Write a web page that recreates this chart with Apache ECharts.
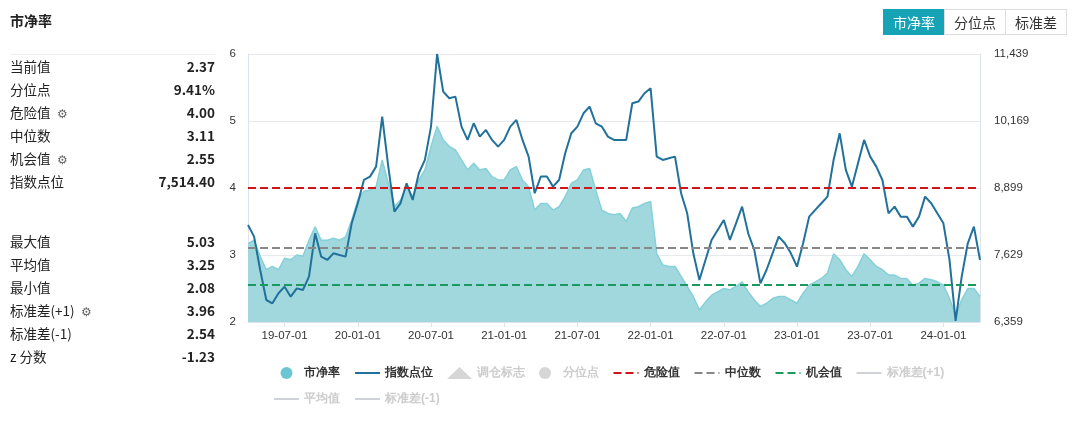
<!DOCTYPE html>
<html><head><meta charset="utf-8">
<script src="https://cdn.jsdelivr.net/npm/echarts@6/dist/echarts.min.js"></script>
<style>
body{margin:0;width:1080px;height:425px;background:#fff;font-family:"Noto Sans CJK SC","Noto Sans",sans-serif;overflow:hidden;position:relative}
#main{position:absolute;left:0;top:0;width:1080px;height:425px}
.title{position:absolute;left:10px;top:10px;font-size:14px;font-weight:bold;color:#222}
.stats{position:absolute;left:10px;top:54px;width:205px;border-top:1px solid #eee;font-size:13.5px;color:#222}
.row{display:flex;justify-content:space-between;height:23px;line-height:23px}
.row b{font-weight:bold}
.gap{height:37px}
.gear{color:#666;font-size:12px;margin-left:6px}
.btns{position:absolute;left:884px;top:9px;display:flex;font-size:14px}
.btns div{border:1px solid #ddd;padding:0 7px;height:24px;line-height:24px;color:#333;margin-left:-1px;width:46px;text-align:center}
.btns .on{background:#17a3b6;color:#fff;border-color:#17a3b6}
</style></head>
<body>
<div id="main"></div>
<div class="title">市净率</div>
<div class="stats" id="stats"></div>
<div class="btns"><div class="on">市净率</div><div>分位点</div><div>标准差</div></div>
<script>
// 左侧统计
var statTop = [["当前值","2.37"],["分位点","9.41%"],["危险值","4.00",1],["中位数","3.11"],["机会值","2.55",1],["指数点位","7,514.40"]];
var statBottom = [["最大值","5.03"],["平均值","3.25"],["最小值","2.08"],["标准差(+1)","3.96",1],["标准差(-1)","2.54"],["z 分数","-1.23"]];
function statHtml(list){
    return list.map(function(r){
        return '<div class="row"><span>'+r[0]+(r[2]?'<span class="gear">⚙</span>':'')+'</span><b>'+r[1]+'</b></div>';
    }).join('');
}
document.getElementById('stats').innerHTML = statHtml(statTop)+'<div class="gap"></div>'+statHtml(statBottom);

// 半月日期
var dates = [];
(function(){
    for(var y=2019;y<=2024;y++){
        for(var m=1;m<=12;m++){
            ['01','16'].forEach(function(d){
                var s = y+'-'+(m<10?'0'+m:m)+'-'+d;
                if(s>='2019-04-01' && s<='2024-04-01') dates.push(s);
            });
        }
    }
})();

var pbData = [3.17,3.22,2.98,2.78,2.83,2.78,2.95,2.93,3.00,2.98,3.22,3.42,3.22,3.22,3.25,3.22,3.27,3.52,3.82,3.95,
3.97,4.02,4.42,4.07,3.72,3.82,4.02,3.87,4.12,4.27,4.62,4.92,4.72,4.62,4.57,4.42,4.27,4.37,4.27,4.29,
4.17,4.12,4.12,4.27,4.32,4.12,4.02,3.67,3.77,3.77,3.67,3.72,3.87,4.07,4.12,4.27,4.29,3.97,3.67,3.62,
3.60,3.62,3.50,3.70,3.72,3.77,3.80,3.02,2.85,2.83,2.83,2.68,2.53,2.38,2.18,2.30,2.40,2.45,2.50,2.48,
2.53,2.60,2.45,2.33,2.23,2.28,2.35,2.38,2.38,2.33,2.28,2.43,2.55,2.60,2.65,2.73,3.02,2.93,2.78,2.68,
2.83,3.02,2.93,2.83,2.78,2.70,2.70,2.65,2.65,2.55,2.58,2.65,2.63,2.60,2.55,2.35,2.10,2.33,2.50,2.50,2.38];
var indexData = [8198,7977,7345,6776,6713,6903,7029,6839,6997,6966,7219,8040,7598,7535,7661,7629,7598,8230,8609,9051,
9115,9304,10252,9304,8451,8609,8988,8672,9178,9431,10063,11439,10726,10600,10631,10063,9810,10126,9873,10000,
9810,9683,9810,10063,10189,9810,9494,8799,9115,9115,8925,9051,9557,9936,10063,10315,10442,10126,10063,9873,
9810,9810,9810,10505,10537,10695,10789,9494,9431,9462,9494,8799,8419,7661,7155,7535,7914,8103,8293,7914,
8230,8546,8040,7724,7092,7345,7661,7977,7851,7661,7408,7851,8356,8483,8609,8735,9431,9936,9241,8925,
9367,9810,9494,9304,9051,8419,8546,8356,8356,8167,8356,8735,8609,8419,8230,7535,6380,7219,7851,8167,7535];
var dangerVal = 4.00, medianVal = 3.11, chanceVal = 2.55;
var yLeftTicks = [2,6,1];
var yRightTicks = [6359,11439,1270];

function isHalfYear(idx, val){ var t = val.slice(5); return t==='01-01'||t==='07-01'; }
function refLine(name,color,val,type){
    return {name:name,type:'line',data:[],symbol:'none',
        lineStyle:{color:color,type:type||'dashed',width:2},itemStyle:{color:color},
        markLine:val==null?undefined:{silent:true,symbol:'none',label:{show:false},
            lineStyle:{color:color,type:type||'dashed',width:2},data:[{yAxis:val}]}};
}
function lineItem(name){ return {name:name,itemStyle:{opacity:0}}; }

var chart = echarts.init(document.getElementById('main'));
chart.setOption({
    animation:false,
    legend:{left:268,top:362,width:730,itemGap:14,itemWidth:25,itemHeight:12,
        inactiveColor:'#ccc',
        textStyle:{fontSize:12,color:'#333',width:62,fontWeight:'bold'},
        selected:{'调仓标志':false,'分位点':false,'标准差(+1)':false,'平均值':false,'标准差(-1)':false},
        data:[{name:'市净率',icon:'circle'},lineItem('指数点位'),{name:'调仓标志',icon:'triangle',itemWidth:14},{name:'分位点',icon:'circle'},
            lineItem('危险值'),lineItem('中位数'),lineItem('机会值'),lineItem('标准差(+1)'),lineItem('平均值'),lineItem('标准差(-1)')]},
    grid:{left:248,right:100,top:54,bottom:103},
    xAxis:{type:'category',data:dates,boundaryGap:false,
        axisLine:{lineStyle:{color:'#dde3ea'}},
        axisTick:{interval:isHalfYear,lineStyle:{color:'#dde3ea'}},
        axisLabel:{interval:isHalfYear,color:'#333',fontSize:11.5,formatter:function(v){return v.slice(2);}}},
    yAxis:[{type:'value',min:yLeftTicks[0],max:yLeftTicks[1],interval:yLeftTicks[2],
            axisLine:{show:true,lineStyle:{color:'#dde3ea'}},
            axisLabel:{color:'#333',fontSize:11.5,margin:12},splitLine:{lineStyle:{color:'#e6e9ee'}}},
        {type:'value',min:yRightTicks[0],max:yRightTicks[1],interval:yRightTicks[2],
            axisLine:{show:true,lineStyle:{color:'#dde3ea'}},
            axisLabel:{color:'#333',fontSize:11.5,margin:14,formatter:function(v){return v.toLocaleString('en-US');}},
            splitLine:{show:false}}],
    series:[
        {name:'市净率',type:'line',data:pbData,symbol:'none',
            lineStyle:{color:'#86d0d9',width:1.5},itemStyle:{color:'#6cc6d1'},
            areaStyle:{color:'#a0d8de',opacity:1}},
        {name:'指数点位',type:'line',yAxisIndex:1,data:indexData,symbol:'none',
            lineStyle:{color:'#21719b',width:2},itemStyle:{color:'#21719b'}},
        {name:'调仓标志',type:'scatter',data:[],itemStyle:{color:'#999'}},
        {name:'分位点',type:'scatter',data:[],itemStyle:{color:'#999'}},
        refLine('危险值','#d0141a',dangerVal),
        refLine('中位数','#888',medianVal),
        refLine('机会值','#1a9a5f',chanceVal),
        refLine('标准差(+1)','#aaa',null,[8,3,2,3]),
        refLine('平均值','#aaa',null,[8,3,2,3]),
        refLine('标准差(-1)','#aaa',null,[8,3,2,3])
    ]
});
</script>
</body></html>
